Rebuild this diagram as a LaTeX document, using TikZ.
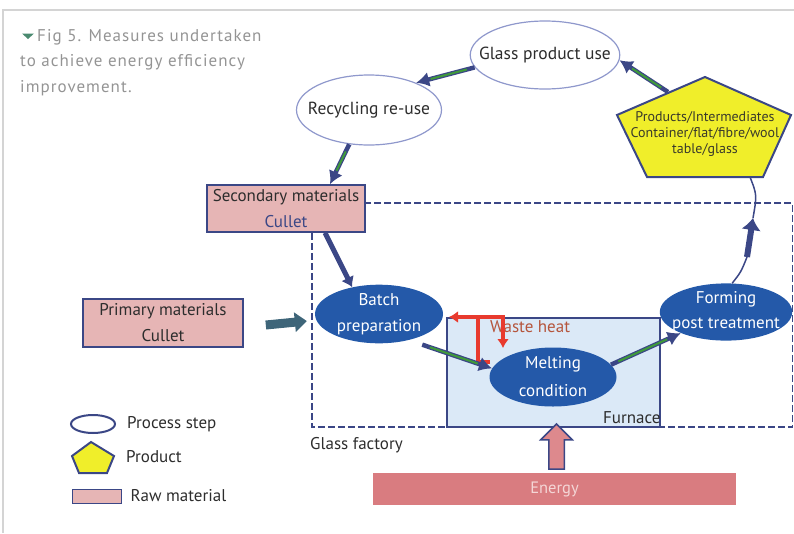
\documentclass[tikz,border=0pt]{standalone}
\usepackage{fontspec}
\setmainfont{PT Sans}
\usetikzlibrary{shapes.geometric,shapes.arrows,arrows.meta,positioning,calc}

\definecolor{navy}{HTML}{3B4786}
\definecolor{stepline}{HTML}{8F98CC}
\definecolor{stepblue}{HTML}{2459A9}
\definecolor{rawpink}{HTML}{E6B5B5}
\definecolor{energypink}{HTML}{D97C80}
\definecolor{energytext}{HTML}{F4D6D6}
\definecolor{furnblue}{HTML}{DBE9F7}
\definecolor{prodyellow}{HTML}{F0EE2A}
\definecolor{proddark}{HTML}{3A3A2A}
\definecolor{feedteal}{HTML}{3E6579}
\definecolor{flowgreen}{HTML}{3F9A3A}
\definecolor{heatred}{HTML}{E83A2E}
\definecolor{heatbrown}{HTML}{B5553C}
\definecolor{textdark}{HTML}{2D2D2D}
\definecolor{captiongrey}{HTML}{949494}
\definecolor{captiongreen}{HTML}{4A8A70}
\definecolor{framegrey}{HTML}{D4D4D4}

\tikzset{
  lightstep/.style={ellipse,draw=stepline,line width=1.2pt,fill=white,minimum width=145pt,
    minimum height=68pt,inner xsep=-13pt,inner ysep=0pt,text=textdark,font=\fontsize{17.5}{20}\selectfont},
  bluestep/.style={ellipse,fill=stepblue,text=white,align=center,minimum width=128pt,
    minimum height=58pt,inner sep=0pt,font=\fontsize{17}{26}\selectfont},
  rawbox/.style={rectangle,draw=navy,line width=1.6pt,fill=rawpink,align=center,
    inner sep=0pt,text=textdark,font=\fontsize{17}{26}\selectfont},
  flowline/.style={draw=navy,line width=4.5pt,-{Latex[length=13pt,width=15pt]}},
  flowcore/.style={draw=flowgreen,line width=2pt,shorten <=8pt,shorten >=15pt},
  feedarrow/.style={draw=feedteal,line width=9pt,-{Triangle[length=12pt,width=19pt]}},
  heat/.style={draw=heatred,line width=3.2pt},
  legtext/.style={text=textdark,font=\fontsize{17}{19}\selectfont,inner sep=0pt},
}

\begin{document}
\begin{tikzpicture}[x=1pt,y=-1pt]
\useasboundingbox (0,0) rectangle (794,533);
\draw[framegrey,line width=1.5pt] (3,533) -- (3,10) -- (794,10);

% caption
\fill[captiongreen] (22,33.5) -- (34,33.5) -- (28,39) -- cycle;
\node[anchor=north west,align=left,inner sep=0pt,text=captiongrey,
  font=\fontsize{17}{25.5}\selectfont\addfontfeatures{LetterSpace=6}] (caption) at (20,29)
  {\hspace*{17pt}Fig 5. Measures undertaken\\to achieve energy efficiency\\improvement.};

% glass factory
\draw[navy,line width=1.8pt,dash pattern=on 7pt off 3pt] (312,203) rectangle (792.5,427);
\node[legtext,anchor=west] (factory) at (310,445) {Glass factory};

% product cycle
\node[lightstep] (gpu) at (545,55) {Glass product use};
\node[lightstep,minimum height=70pt] (rec) at (369,110) {Recycling re-use};
\draw[navy,line width=2pt,fill=prodyellow] (705,77) -- (791,115) -- (763,177) -- (647,177) -- (617,115) -- cycle;
\node[align=center,inner sep=0pt,text=proddark,font=\fontsize{14}{16}\selectfont] (prod) at (705,134)
  {Products/Intermediates\\Container/flat/fibre/wool\\table/glass};
\coordinate (prodin) at (668,92);
\coordinate (prodout) at (750,177);

% raw materials
\node[rawbox,minimum width=158pt,minimum height=47pt] (sec) at (286,208.5)
  {Secondary materials\\\textcolor{navy}{Cullet}};
\node[rawbox,minimum width=160pt,minimum height=48pt] (prim) at (163,323)
  {Primary materials\\Cullet};

% furnace and process steps
\node[draw=navy,line width=2pt,fill=furnblue,minimum width=213pt,minimum height=109pt,inner sep=0pt]
  (furnace) at (553.5,372.5) {};
\node[legtext,anchor=base west] at (603,423) {Furnace};
\node[bluestep] (batch) at (379,314) {Batch\\preparation};
\node[bluestep,minimum width=127pt,minimum height=59pt,font=\fontsize{17}{28}\selectfont]
  (melt) at (553,377) {Melting\\condition};
\node[bluestep,inner xsep=-7pt,minimum height=57pt,font=\fontsize{17}{25}\selectfont]
  (form) at (726,312) {Forming\\post treatment};

% waste heat
\node[legtext,text=heatbrown,anchor=west] (waste) at (490,327) {Waste heat};
\draw[heat,-{Latex[length=9pt,width=12pt]}] (490,362) -- (478,362) -- (478,317) -- (449,317);
\draw[heat,-{Latex[length=9pt,width=12pt]}] (478,317) -- (503,317) -- (503,348);

% energy
\node[fill=energypink,minimum width=363pt,minimum height=32pt,inner sep=0pt,text=energytext,
  font=\fontsize{16.5}{18}\selectfont] (energy) at (554.5,489) {Energy};
\node[single arrow,rotate=90,draw=navy,line width=1.5pt,fill=energypink!90!white,inner sep=7pt,
  minimum height=45pt,single arrow head extend=8pt] (energyin)
  at ($(energy.north)!0.5!(furnace.south)+(2.5,0)$) {};

% flow arrows
\draw[flowline] (prodin) -- (gpu.-4);
\draw[flowcore] (prodin) -- (gpu.-4);
\draw[flowline] (gpu.190) -- (rec.30);
\draw[flowcore] (gpu.190) -- (rec.30);
\draw[flowline] (rec.240) -- ([xshift=44pt]sec.north);
\draw[flowcore] (rec.240) -- ([xshift=44pt]sec.north);
\draw[navy,line width=5pt,-{Latex[length=10pt,width=14pt]}] ([xshift=39pt]sec.south) -- (batch.135);
\draw[feedarrow] ([xshift=22pt,yshift=-2pt]prim.east) -- ([xshift=-8pt]batch.west |- 0,321);
\draw[flowline] ([xshift=8pt,yshift=-6pt]batch.-35) -- (melt.172);
\draw[flowcore] ([xshift=8pt,yshift=-6pt]batch.-35) -- (melt.172);
\draw[flowline] (melt.12) -- (form.205);
\draw[flowcore] (melt.12) -- (form.205);
\coordinate (formtail) at (747,257);
\coordinate (formtip) at (753,218);
\draw[navy,line width=1.5pt] (form.78) .. controls (741,272) .. (formtail);
\draw[navy,line width=6pt,-{Latex[length=12pt,width=20pt]}] (formtail) -- (formtip);
\draw[navy,line width=1.5pt] (formtip) .. controls (757,195) .. (prodout);

% legend
\node[ellipse,draw=navy,line width=2pt,fill=white,minimum width=44pt,minimum height=18pt,inner sep=0pt]
  (legstep) at (93,424) {};
\node[legtext,right=11pt of legstep] (legsteptext) {Process step};
\draw[navy,line width=2pt,fill=prodyellow] (91,442) -- (114,456) -- (107,473) -- (79,473) -- (72,456) -- cycle;
\node[legtext,anchor=west] (legprod) at (126,457) {Product};
\node[draw=navy,line width=1pt,fill=rawpink,minimum width=49pt,minimum height=14pt,inner sep=0pt]
  (legraw) at (96.5,496) {};
\node[legtext,right=9pt of legraw] (legrawtext) {Raw material};
\end{tikzpicture}
\end{document}
